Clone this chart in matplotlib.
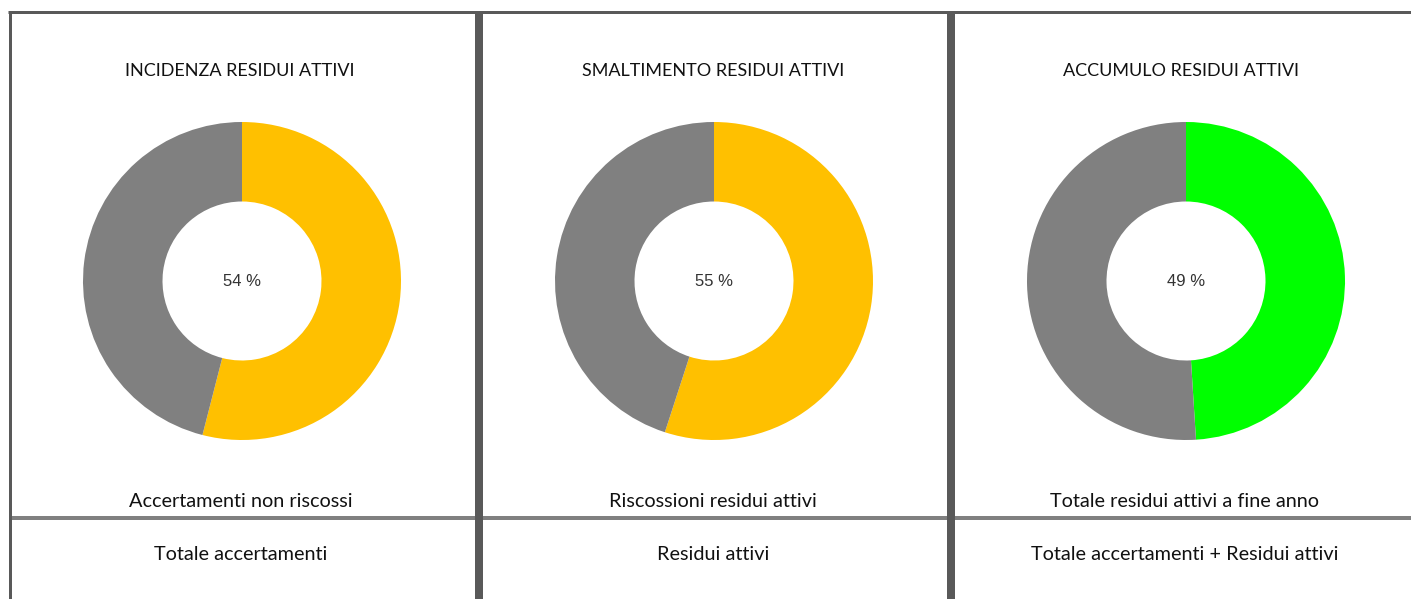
import matplotlib
matplotlib.use("Agg")
import matplotlib.pyplot as plt

W, H = 1411, 599
DPI = 100

titles = ["INCIDENZA RESIDUI ATTIVI", "SMALTIMENTO RESIDUI ATTIVI", "ACCUMULO RESIDUI ATTIVI"]
percentages = [54, 55, 49]
highlight_colors = ["#FFC000", "#FFC000", "#00FF00"]
rest_color = "#808080"
numerators = ["Accertamenti non riscossi", "Riscossioni residui attivi", "Totale residui attivi a fine anno"]
denominators = ["Totale accertamenti", "Residui attivi", "Totale accertamenti + Residui attivi"]

fig = plt.figure(figsize=(W / DPI, H / DPI), dpi=DPI)
fig.patch.set_facecolor("white")

# overlay axes in pixel coordinates
ov = fig.add_axes([0, 0, 1, 1])
ov.set_xlim(0, W)
ov.set_ylim(H, 0)
ov.axis("off")

px = 72 / DPI
border = "#595959"
ov.plot([10, W], [518, 518], color="#808080", lw=4 * px, solid_capstyle="butt")
ov.plot([8, W], [12, 12], color=border, lw=3 * px, solid_capstyle="butt")
ov.plot([9.5, 9.5], [11, H], color=border, lw=3 * px, solid_capstyle="butt")
for xs in [479, 951]:
    ov.plot([xs, xs], [11, H], color=border, lw=8 * px, solid_capstyle="butt")

centers_x = [242, 714, 1186]
title_x = [240, 713, 1181]
cy = 281
R = 159

for i in range(3):
    cx = centers_x[i]
    ax = fig.add_axes([(cx - R) / W, (H - cy - R) / H, 2 * R / W, 2 * R / H])
    p = percentages[i]
    ax.pie([p, 100 - p], colors=[highlight_colors[i], rest_color], startangle=90,
           counterclock=False, radius=1.0, wedgeprops=dict(width=0.5, linewidth=0))
    ax.set_xlim(-1, 1)
    ax.set_ylim(-1, 1)
    ax.set_aspect("equal")
    ax.axis("off")
    ax.text(0, 0, f"{p} %", ha="center", va="center", fontsize=12,
            color="#333333", family="Liberation Sans")

    ov.text(title_x[i], 76, titles[i], ha="center", va="baseline", fontsize=13,
            family="Lato", color="#111111")
    ov.text(centers_x[i] - 1, 507, numerators[i], ha="center", va="baseline", fontsize=14.3,
            family="Lato", color="#111111")
    ov.text(centers_x[i] - 1, 560, denominators[i], ha="center", va="baseline", fontsize=14.3,
            family="Lato", color="#111111")

fig.savefig("out.png", dpi=DPI, facecolor="white")
